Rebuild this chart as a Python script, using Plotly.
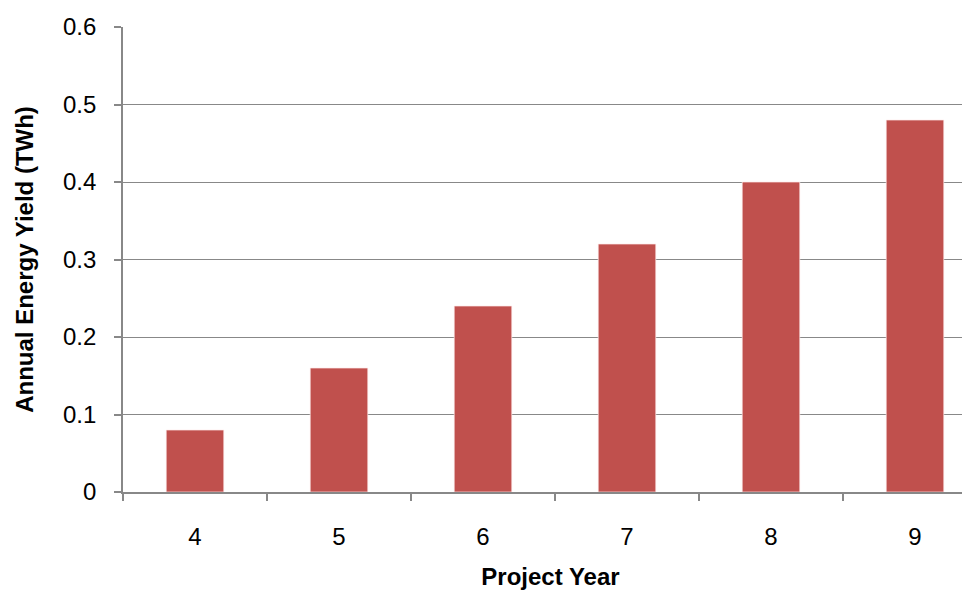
import plotly.graph_objects as go

years = ["4", "5", "6", "7", "8", "9"]
energy_twh = [0.08, 0.16, 0.24, 0.32, 0.40, 0.48]
y_ticks = [0, 0.1, 0.2, 0.3, 0.4, 0.5, 0.6]
y_tick_text = ["0", "0.1", "0.2", "0.3", "0.4", "0.5", "0.6"]

AX = "#888888"

fig = go.Figure(
    go.Bar(
        x=years,
        y=energy_twh,
        marker=dict(color="#C0504D", line=dict(color="rgba(255,235,235,0.7)", width=1)),
    )
)

fig.update_layout(
    width=970,
    height=590,
    margin=dict(l=115, r=0, t=19, b=106, autoexpand=False),
    plot_bgcolor="white",
    paper_bgcolor="white",
    bargap=0.6,
    showlegend=False,
    font=dict(family="Liberation Sans, Arial, sans-serif", size=24, color="black"),
)

fig.update_xaxes(
    type="category",
    range=[-0.5, 5.4375],
    showline=True,
    linecolor=AX,
    linewidth=1.6,
    ticks="outside",
    tickson="boundaries",
    ticklen=7,
    tickwidth=1.5,
    tickcolor=AX,
    showgrid=False,
    ticklabelstandoff=22,
    automargin=False,
    title=dict(text="<b>Project Year</b>", font=dict(size=24), standoff=20),
)

fig.update_yaxes(
    range=[0, 0.6],
    tickvals=y_ticks,
    ticktext=y_tick_text,
    showline=True,
    linecolor=AX,
    linewidth=1.6,
    ticks="outside",
    ticklen=7,
    tickwidth=1.5,
    tickcolor=AX,
    showgrid=True,
    gridcolor=AX,
    gridwidth=1.3,
    zeroline=False,
    ticklabelstandoff=13,
    automargin=False,
    title=dict(text="<b>Annual Energy Yield (TWh)</b>", font=dict(size=24), standoff=23),
)

fig.write_html("out.html")
